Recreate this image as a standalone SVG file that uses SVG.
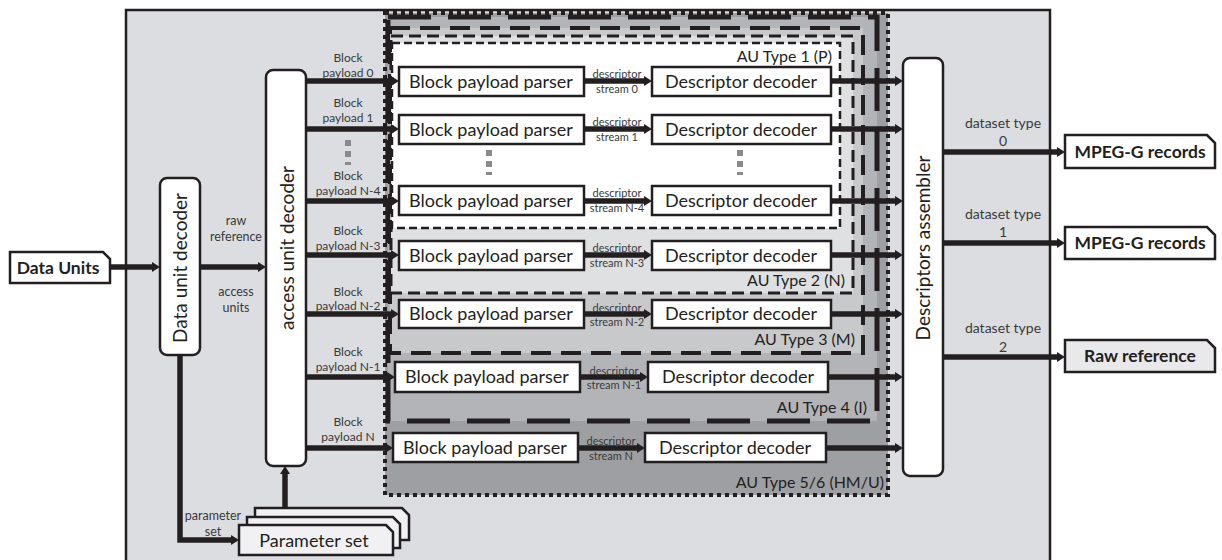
<svg xmlns="http://www.w3.org/2000/svg" width="1222" height="560" viewBox="0 0 1222 560">
<defs>
<style>
text{font-family:Lato,"Open Sans","Liberation Sans",sans-serif;fill:#231f20}
.box{fill:#fff;stroke:#231f20;stroke-width:2.5}
.rbox{fill:#fff;stroke:#231f20;stroke-width:2.5}
.big{font-size:18px;text-anchor:middle}
.sm{font-size:12px;text-anchor:middle;fill:#3a3a3a}
.xs{font-size:11px;text-anchor:middle;fill:#3a3a3a}
.lbl{font-size:12.5px;text-anchor:middle;fill:#3a3a3a}
.ds{font-size:14px;text-anchor:middle;fill:#3a3a3a}
.au{font-size:16px;text-anchor:end;fill:#231f20}
.bold{font-size:17.5px;font-weight:bold;text-anchor:middle}
.rot{font-size:19px;text-anchor:middle}
.conn path{fill:none;stroke:#231f20;stroke-width:5.5;marker-end:url(#ah)}
.dots rect{fill:#8a8a8c}
</style>
<marker id="ah" viewBox="0 0 8 10" refX="0" refY="5" markerWidth="8" markerHeight="10" markerUnits="userSpaceOnUse" orient="auto">
<path d="M0,0 L8,5 L0,10 Z" fill="#231f20"/>
</marker>
</defs>

<rect id="frame" x="126" y="10" width="924" height="560" fill="#dcdde0" stroke="#231f20" stroke-width="2.5"/>

<g id="regions">
<rect id="au56" x="385" y="13" width="503" height="482" fill="#9e9fa2" stroke="#231f20" stroke-width="4" stroke-dasharray="4 4"/>
<rect id="au4" x="388" y="17" width="489" height="404" fill="#b3b4b7" stroke="#231f20" stroke-width="5" stroke-dasharray="43 17"/>
<rect id="au3" x="390" y="28" width="473" height="325" fill="#c8c9cb" stroke="#231f20" stroke-width="4" stroke-dasharray="20 10"/>
<rect id="au2" x="391" y="36" width="462" height="257" fill="#dfe0e2" stroke="#231f20" stroke-width="3" stroke-dasharray="12 6"/>
<rect id="au1" x="392" y="43" width="448" height="185" fill="#ffffff" stroke="#231f20" stroke-width="2.5" stroke-dasharray="8 4"/>
<text class="au" x="832" y="62">AU Type 1 (P)</text>
<text class="au" x="845" y="286">AU Type 2 (N)</text>
<text class="au" x="855" y="345">AU Type 3 (M)</text>
<text class="au" x="867" y="413">AU Type 4 (I)</text>
<text class="au" x="884" y="488">AU Type 5/6 (HM/U)</text>
</g>

<g id="data-units">
<path d="M10,252 H103 L110,259 V283 H10 Z" fill="#fff" stroke="#231f20" stroke-width="2.5"/>
<text class="bold" x="58" y="274">Data Units</text>
</g>

<g id="data-unit-decoder">
<rect class="rbox" x="160" y="178" width="40" height="177" rx="7"/>
<text class="rot" transform="translate(187,268) rotate(-90)">Data unit decoder</text>
</g>

<g id="access-unit-decoder">
<rect class="rbox" x="266" y="70" width="40" height="396" rx="7"/>
<text class="rot" font-size="21" transform="translate(294,248) rotate(-90)">access unit decoder</text>
</g>

<g id="descriptors-assembler">
<rect class="rbox" x="903" y="58" width="40" height="418" rx="7"/>
<text class="rot" font-size="20.5" transform="translate(930,248) rotate(-90)">Descriptors assembler</text>
</g>

<g id="parameter-set">
<path d="M255,508 H402 L409,515 V540 H255 Z" fill="#f1f1f3" stroke="#231f20" stroke-width="2.5"/>
<path d="M247,517 H393 L400,524 V548 H247 Z" fill="#f1f1f3" stroke="#231f20" stroke-width="2.5"/>
<path d="M239,525 H386 L393,532 V555 H239 Z" fill="#f1f1f3" stroke="#231f20" stroke-width="2.5"/>
<text class="big" x="314" y="547">Parameter set</text>
</g>

<g id="parsers">
<g id="parser-0"><rect class="box" x="399" y="67" width="185" height="29"/><text class="big" x="491" y="88">Block payload parser</text></g>
<g id="parser-1"><rect class="box" x="399" y="115" width="185" height="29"/><text class="big" x="491" y="136">Block payload parser</text></g>
<g id="parser-n4"><rect class="box" x="399" y="186" width="185" height="29"/><text class="big" x="491" y="207">Block payload parser</text></g>
<g id="parser-n3"><rect class="box" x="399" y="241" width="185" height="29"/><text class="big" x="491" y="262">Block payload parser</text></g>
<g id="parser-n2"><rect class="box" x="399" y="300" width="185" height="28"/><text class="big" x="491" y="320">Block payload parser</text></g>
<g id="parser-n1"><rect class="box" x="395" y="362" width="185" height="30"/><text class="big" x="487" y="383">Block payload parser</text></g>
<g id="parser-n"><rect class="box" x="393" y="433" width="185" height="29"/><text class="big" x="485" y="454">Block payload parser</text></g>
</g>

<g id="decoders">
<g id="decoder-0"><rect class="box" x="652" y="67" width="179" height="29"/><text class="big" x="741" y="88">Descriptor decoder</text></g>
<g id="decoder-1"><rect class="box" x="652" y="115" width="179" height="29"/><text class="big" x="741" y="136">Descriptor decoder</text></g>
<g id="decoder-n4"><rect class="box" x="652" y="186" width="179" height="29"/><text class="big" x="741" y="207">Descriptor decoder</text></g>
<g id="decoder-n3"><rect class="box" x="652" y="241" width="179" height="29"/><text class="big" x="741" y="262">Descriptor decoder</text></g>
<g id="decoder-n2"><rect class="box" x="652" y="300" width="179" height="28"/><text class="big" x="741" y="320">Descriptor decoder</text></g>
<g id="decoder-n1"><rect class="box" x="648" y="362" width="180" height="30"/><text class="big" x="738" y="383">Descriptor decoder</text></g>
<g id="decoder-n"><rect class="box" x="645" y="433" width="181" height="29"/><text class="big" x="735" y="454">Descriptor decoder</text></g>
</g>

<g id="outputs">
<g id="out-0"><path d="M1065,135 H1207 L1215,143 V168 H1065 Z" fill="#fff" stroke="#231f20" stroke-width="2.5"/><text class="bold" x="1140" y="158">MPEG-G records</text></g>
<g id="out-1"><path d="M1065,227 H1207 L1215,235 V259 H1065 Z" fill="#fff" stroke="#231f20" stroke-width="2.5"/><text class="bold" x="1140" y="249">MPEG-G records</text></g>
<g id="out-2"><path d="M1065,340 H1207 L1215,348 V372 H1065 Z" fill="#e9e9eb" stroke="#231f20" stroke-width="2.5"/><text class="bold" x="1140" y="362">Raw reference</text></g>
</g>

<g id="dots" class="dots">
<rect x="345" y="140" width="6" height="6"/><rect x="345" y="151" width="6" height="6"/><rect x="345" y="162" width="6" height="3"/>
<rect x="486" y="150" width="6" height="6"/><rect x="486" y="161" width="6" height="6"/><rect x="486" y="172" width="6" height="3"/>
<rect x="737" y="150" width="6" height="6"/><rect x="737" y="161" width="6" height="6"/><rect x="737" y="172" width="6" height="3"/>
</g>

<g id="connectors" class="conn">
<path d="M110,267 H152"/>
<path d="M200,267 H258"/>
<path d="M180,355 V540 H231"/>
<path d="M285,508 V474"/>
<path d="M306,81 H391"/>
<path d="M306,129 H391"/>
<path d="M306,201 H391"/>
<path d="M306,255 H391"/>
<path d="M306,314 H391"/>
<path d="M306,377 H387"/>
<path d="M306,448 H385"/>
<path d="M584,81 H644"/>
<path d="M584,129 H644"/>
<path d="M584,201 H644"/>
<path d="M584,255 H644"/>
<path d="M584,314 H644"/>
<path d="M580,377 H640"/>
<path d="M578,448 H637"/>
<path d="M831,81 H895"/>
<path d="M831,129 H895"/>
<path d="M831,201 H895"/>
<path d="M831,255 H895"/>
<path d="M831,314 H895"/>
<path d="M828,377 H895"/>
<path d="M826,448 H895"/>
<path d="M943,152 H1057"/>
<path d="M943,243 H1057"/>
<path d="M943,357 H1057"/>
</g>

<g id="connector-labels">
<text class="lbl" x="236" y="225">raw</text>
<text class="lbl" x="236" y="241">reference</text>
<text class="lbl" x="236" y="296">access</text>
<text class="lbl" x="236" y="312">units</text>
<text class="lbl" x="213" y="520">parameter</text>
<text class="lbl" x="213" y="536">set</text>
<text class="sm" x="348" y="62">Block</text><text class="sm" x="348" y="77">payload 0</text>
<text class="sm" x="348" y="107">Block</text><text class="sm" x="348" y="122">payload 1</text>
<text class="sm" x="348" y="180">Block</text><text class="sm" x="348" y="195">payload N-4</text>
<text class="sm" x="348" y="235">Block</text><text class="sm" x="348" y="250">payload N-3</text>
<text class="sm" x="348" y="296">Block</text><text class="sm" x="348" y="310">payload N-2</text>
<text class="sm" x="348" y="356">Block</text><text class="sm" x="348" y="371">payload N-1</text>
<text class="sm" x="348" y="426">Block</text><text class="sm" x="348" y="441">payload N</text>
<text class="xs" x="617" y="78">descriptor</text><text class="xs" x="617" y="93">stream 0</text>
<text class="xs" x="617" y="126">descriptor</text><text class="xs" x="617" y="141">stream 1</text>
<text class="xs" x="617" y="197">descriptor</text><text class="xs" x="617" y="212">stream N-4</text>
<text class="xs" x="617" y="252">descriptor</text><text class="xs" x="617" y="267">stream N-3</text>
<text class="xs" x="617" y="312">descriptor</text><text class="xs" x="617" y="326">stream N-2</text>
<text class="xs" x="614" y="375">descriptor</text><text class="xs" x="614" y="389">stream N-1</text>
<text class="xs" x="611" y="445">descriptor</text><text class="xs" x="611" y="460">stream N</text>
<text class="ds" x="1003" y="128">dataset type</text><text class="ds" x="1003" y="146">0</text>
<text class="ds" x="1003" y="219">dataset type</text><text class="ds" x="1003" y="237">1</text>
<text class="ds" x="1003" y="333">dataset type</text><text class="ds" x="1003" y="352">2</text>
</g>
</svg>
